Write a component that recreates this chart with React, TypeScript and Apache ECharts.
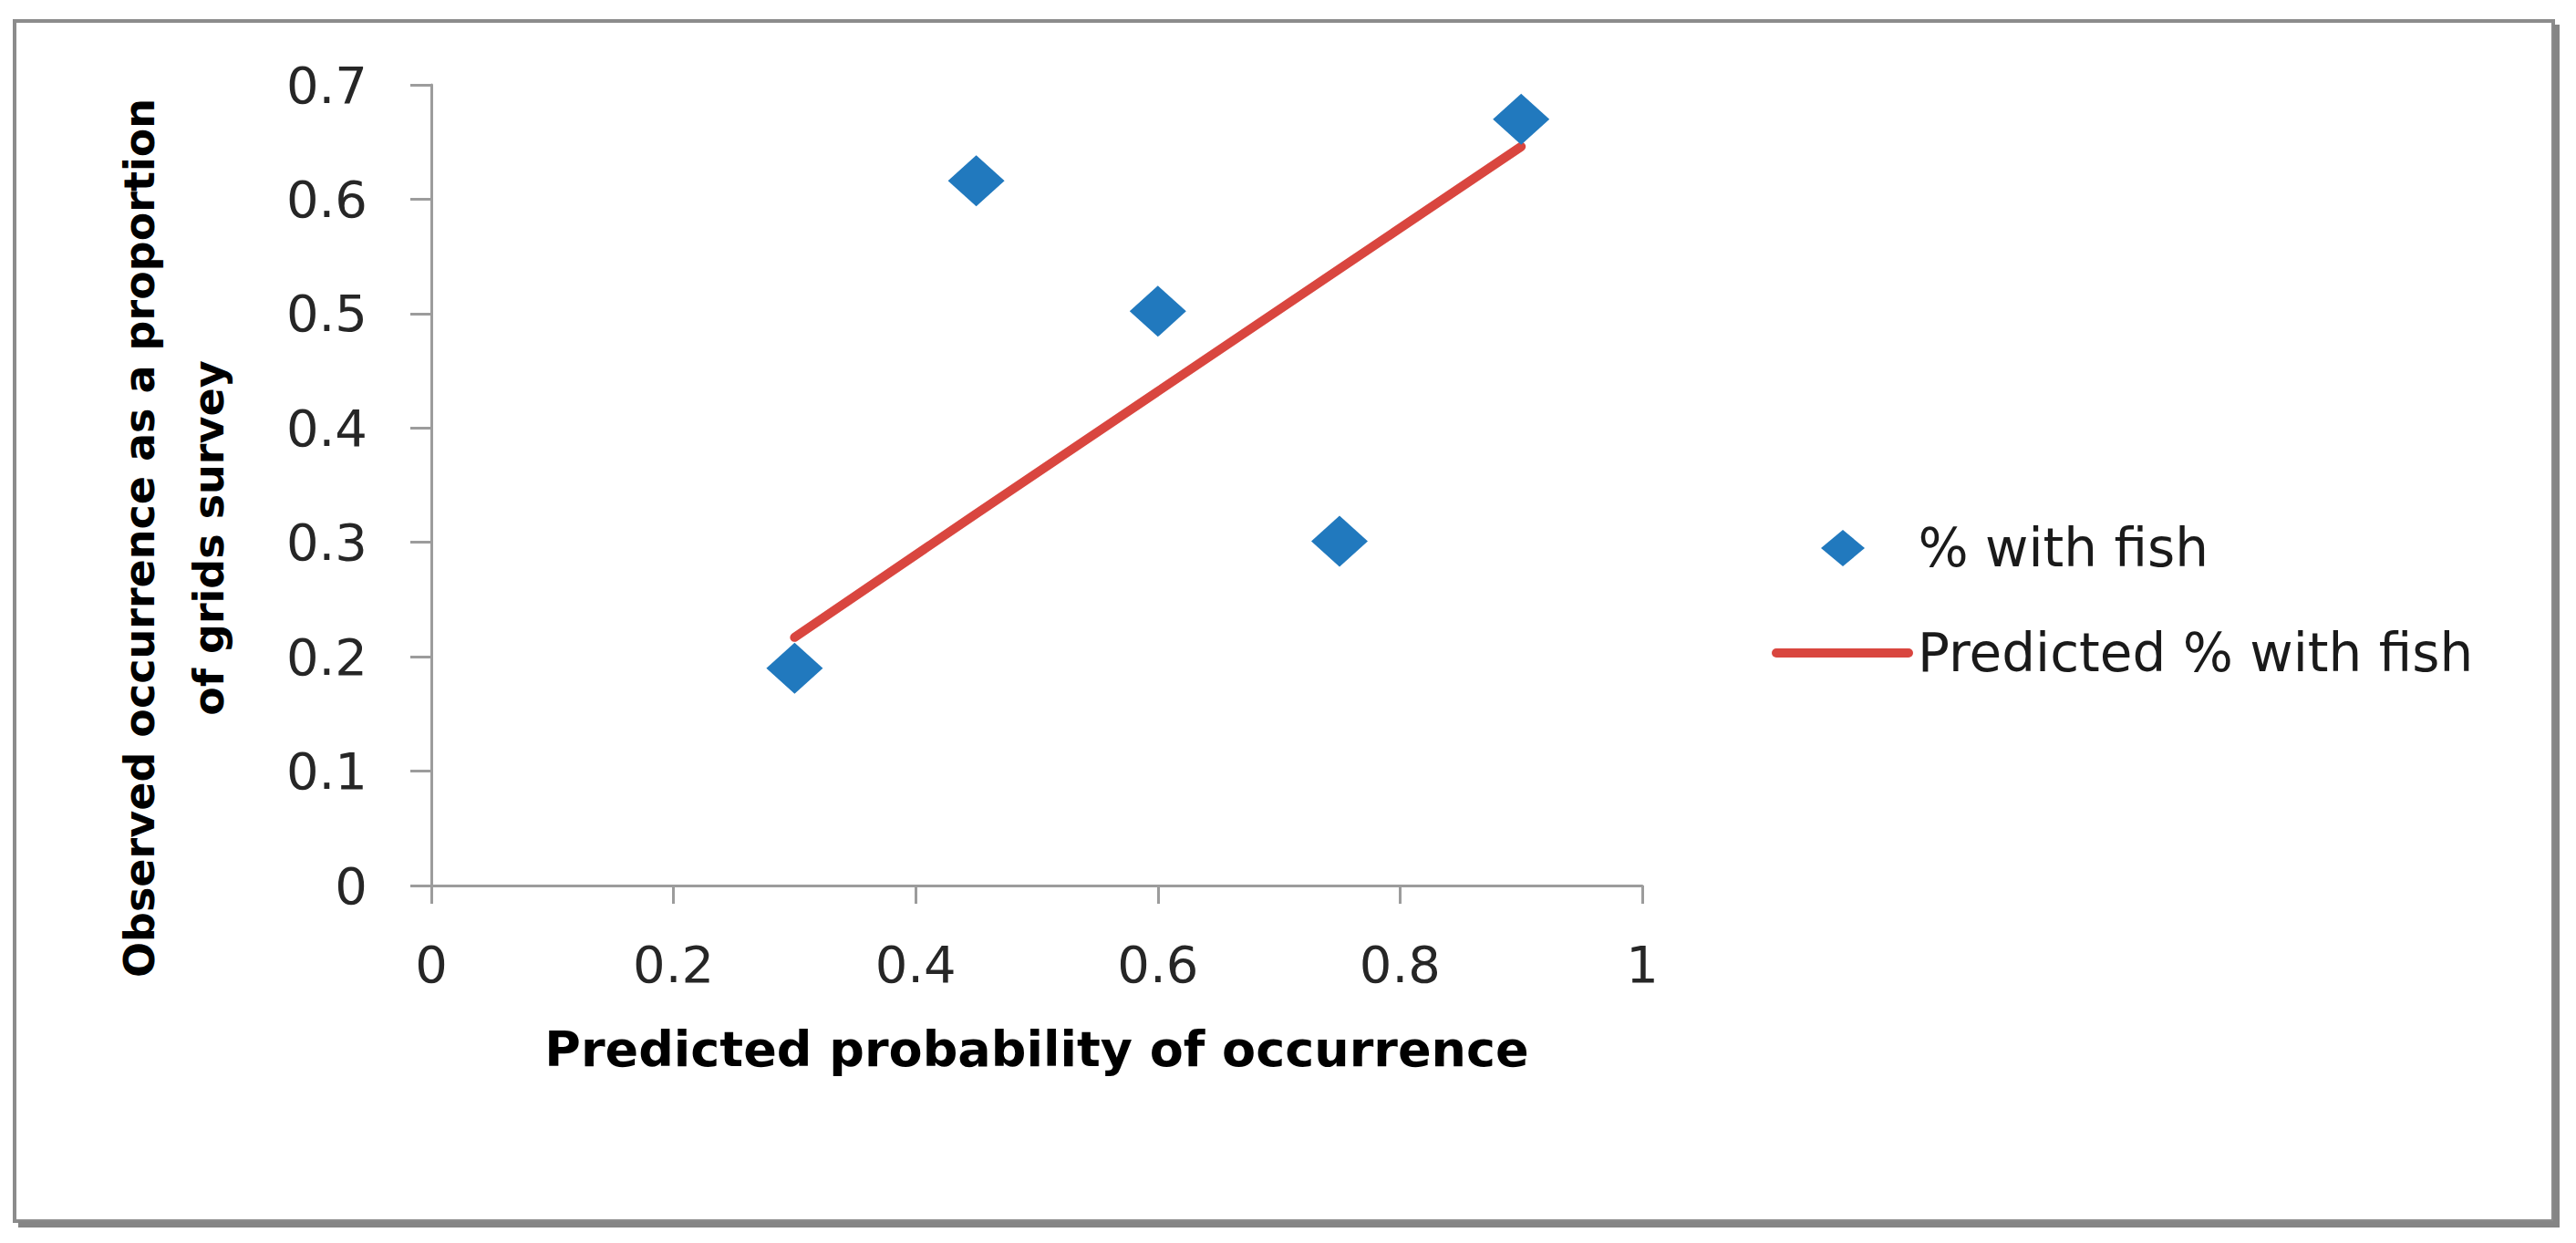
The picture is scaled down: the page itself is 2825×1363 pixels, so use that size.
import React, { useEffect, useRef } from "react";
import * as echarts from "echarts";

const predictedProbability = [0.3, 0.45, 0.6, 0.75, 0.9];
const observedWithFish = [0.19, 0.616, 0.502, 0.301, 0.67];
const predictedWithFish = [0.217, 0.325, 0.432, 0.539, 0.646];

const seriesNames = ["% with fish", "Predicted % with fish"];
const xTitle = "Predicted probability of occurrence";
const yTitle = "Observed occurrence as a proportion\nof grids survey";

const BLUE = "#2179BE";
const RED = "#D9463F";
const AXIS = "#9c9c9c";
const FONT = "DejaVu Sans";

export default function App() {
  const ref = useRef<HTMLDivElement>(null);

  useEffect(() => {
    if (!ref.current) return;
    const chart = echarts.init(ref.current, undefined, { renderer: "svg" });
    const scatterData = predictedProbability.map((x, i) => [x, observedWithFish[i]]);
    const lineData = predictedProbability.map((x, i) => [x, predictedWithFish[i]]);

    const legendText = { fontFamily: FONT, fontSize: 58, color: "#1a1a1a", lineHeight: 60 };

    chart.setOption({
      animation: false,
      backgroundColor: "#ffffff",
      grid: { left: 473, top: 93, width: 1328, height: 878, containLabel: false },
      xAxis: {
        type: "value",
        min: 0,
        max: 1,
        interval: 0.2,
        name: xTitle,
        nameLocation: "middle",
        nameGap: 179,
        nameTextStyle: {
          fontFamily: FONT,
          fontWeight: "bold",
          fontSize: 54,
          color: "#000",
          align: "center",
          verticalAlign: "middle",
        },
        axisLine: { show: true, lineStyle: { color: AXIS, width: 3 } },
        axisTick: { show: true, length: 20, lineStyle: { color: AXIS, width: 3 } },
        axisLabel: { fontFamily: FONT, fontSize: 56, color: "#262626", margin: 58 },
        splitLine: { show: false },
      },
      yAxis: {
        type: "value",
        min: 0,
        max: 0.7,
        interval: 0.1,
        axisLine: { show: true, lineStyle: { color: AXIS, width: 3 } },
        axisTick: { show: true, length: 23, lineStyle: { color: AXIS, width: 3 } },
        axisLabel: { fontFamily: FONT, fontSize: 56, color: "#262626", margin: 70 },
        splitLine: { show: false },
      },
      legend: [
        {
          orient: "vertical",
          left: 1997,
          top: 571,
          padding: 0,
          itemWidth: 155,
          itemHeight: 40,
          symbolKeepAspect: true,
          textStyle: legendText,
          data: [{ name: seriesNames[0], icon: "path://M24,0L48,20L24,40L0,20Z" }],
        },
        {
          orient: "vertical",
          left: 1943,
          top: 686,
          padding: 0,
          itemWidth: 155,
          itemHeight: 40,
          symbolKeepAspect: true,
          textStyle: legendText,
          data: [
            {
              name: seriesNames[1],
              icon: "path://M5,0L150,0A5,5,0,0,1,150,10L5,10A5,5,0,0,1,5,0Z",
            },
          ],
        },
      ],
      series: [
        {
          name: seriesNames[0],
          type: "scatter",
          symbol: "diamond",
          symbolSize: [62, 56],
          itemStyle: { color: BLUE, opacity: 1 },
          data: scatterData,
          z: 3,
        },
        {
          name: seriesNames[1],
          type: "line",
          showSymbol: false,
          symbol: "none",
          lineStyle: { color: RED, width: 10, cap: "round" },
          itemStyle: { color: RED },
          data: lineData,
          z: 2,
        },
      ],
      graphic: [
        {
          type: "text",
          x: 191,
          y: 590,
          rotation: Math.PI / 2,
          silent: true,
          style: {
            text: yTitle,
            fontFamily: FONT,
            fontWeight: "bold",
            fontSize: 46,
            lineHeight: 76,
            fill: "#000",
            align: "center",
            verticalAlign: "middle",
          },
        },
        {
          type: "rect",
          shape: { x: 16, y: 23, width: 2784, height: 1316 },
          style: { fill: "none", stroke: "#8c8c8c", lineWidth: 4 },
          silent: true,
        },
        {
          type: "rect",
          shape: { x: 2800, y: 27, width: 7, height: 1319 },
          style: { fill: "#858585" },
          silent: true,
        },
        {
          type: "rect",
          shape: { x: 20, y: 1339, width: 2787, height: 7 },
          style: { fill: "#858585" },
          silent: true,
        },
      ],
    });

    return () => chart.dispose();
  }, []);

  return (
    <div
      ref={ref}
      style={{ position: "fixed", left: 0, top: 0, width: "100vw", height: "100vh" }}
    />
  );
}
